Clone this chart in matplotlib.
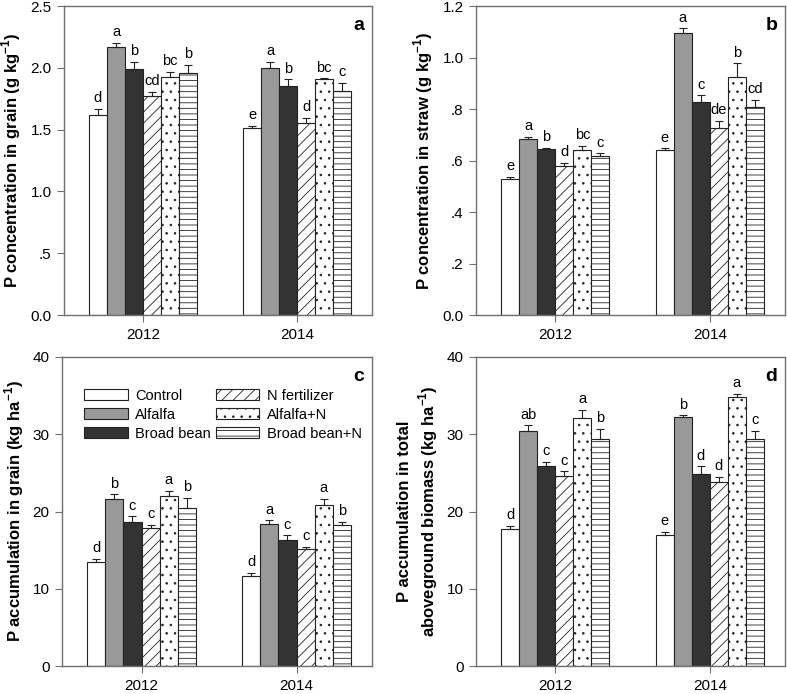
import numpy as np
import matplotlib
matplotlib.use("Agg")
import matplotlib.pyplot as plt

plt.rcParams['font.family'] = ['Liberation Sans', 'DejaVu Sans']
plt.rcParams['mathtext.fontset'] = 'custom'
plt.rcParams['mathtext.rm'] = 'Liberation Sans'
plt.rcParams['mathtext.bf'] = 'Liberation Sans:bold'
plt.rcParams['hatch.linewidth'] = 0.6

years = ['2012', '2014']
treatments = ['Control', 'Alfalfa', 'Broad bean', 'N fertilizer', 'Alfalfa+N', 'Broad bean+N']

# panel a: P concentration in grain (rows = treatments, cols = years)
grain_conc = [[1.62, 1.51], [2.165, 2.00], [1.99, 1.853], [1.775, 1.556], [1.923, 1.907], [1.958, 1.815]]
grain_conc_err = [[0.047, 0.02], [0.038, 0.05], [0.06, 0.054], [0.032, 0.041], [0.047, 0.008], [0.067, 0.065]]
grain_conc_let = [['d', 'e'], ['a', 'a'], ['b', 'b'], ['cd', 'd'], ['bc', 'bc'], ['b', 'c']]

# panel b: P concentration in straw
straw_conc = [[0.529, 0.641], [0.682, 1.094], [0.645, 0.826], [0.58, 0.726], [0.639, 0.923], [0.619, 0.806]]
straw_conc_err = [[0.008, 0.006], [0.009, 0.019], [0.005, 0.027], [0.012, 0.029], [0.017, 0.054], [0.009, 0.029]]
straw_conc_let = [['e', 'e'], ['a', 'a'], ['b', 'c'], ['d', 'de'], ['bc', 'b'], ['c', 'cd']]

# panel c: P accumulation in grain
grain_acc = [[13.46, 11.65], [21.66, 18.42], [18.68, 16.3], [17.8, 15.1], [21.96, 20.8], [20.45, 18.2]]
grain_acc_err = [[0.44, 0.45], [0.55, 0.44], [0.7, 0.6], [0.5, 0.3], [0.74, 0.86], [1.35, 0.5]]
grain_acc_let = [['d', 'd'], ['b', 'a'], ['c', 'c'], ['c', 'c'], ['a', 'a'], ['b', 'b']]

# panel d: P accumulation in total aboveground biomass
total_acc = [[17.69, 17.0], [30.42, 32.23], [25.85, 24.9], [24.6, 23.82], [32.1, 34.82], [29.4, 29.4]]
total_acc_err = [[0.43, 0.4], [0.73, 0.22], [0.55, 0.95], [0.6, 0.65], [1.08, 0.43], [1.3, 1.06]]
total_acc_let = [['d', 'e'], ['ab', 'b'], ['c', 'd'], ['c', 'd'], ['a', 'a'], ['b', 'c']]

styles = [
    dict(facecolor='white', hatch=None),
    dict(facecolor='#999999', hatch=None),
    dict(facecolor='#333333', hatch=None),
    dict(facecolor='white', hatch='///'),
    dict(facecolor='white', hatch='..'),
    dict(facecolor='white', hatch='---'),
]

fig = plt.figure(figsize=(7.87, 6.94), dpi=100)
W, H = 787, 694


def make_ax(l, r, t, b):
    return fig.add_axes([l / W, 1 - b / H, (r - l) / W, (b - t) / H])


def panel(ax, vals, errs, lets, ymax, yticks, yticklabels, ylabel, letter):
    x = np.arange(len(years))
    bw = 0.117
    for i, tr in enumerate(treatments):
        pos = x + (i - 2.5) * bw
        st = styles[i]
        ax.bar(pos, vals[i], width=bw, color=st['facecolor'], hatch=st['hatch'],
               edgecolor='#222222', linewidth=0.8, label=tr, zorder=2)
        ax.errorbar(pos, vals[i], yerr=[[0, 0], errs[i]], fmt='none', ecolor='#222222',
                    elinewidth=0.8, capsize=3, capthick=0.8, zorder=3)
        for j in range(len(years)):
            ax.text(pos[j], vals[i][j] + errs[i][j] + ymax * 0.012, lets[i][j],
                    ha='center', va='bottom', fontsize=10.5)
    ax.set_xlim(-0.513, 1.487)
    ax.set_ylim(0, ymax)
    ax.set_xticks(x)
    ax.set_xticklabels(years, fontsize=11)
    ax.set_yticks(yticks)
    ax.set_yticklabels(yticklabels, fontsize=11)
    ax.set_ylabel(ylabel, fontsize=12, fontweight='bold', labelpad=5)
    for s in ax.spines.values():
        s.set_color('#707070')
        s.set_linewidth(1.0)
    ax.tick_params(direction='out', length=5, color='#707070', pad=4)
    ax.text(0.975, 0.965, letter, transform=ax.transAxes, ha='right', va='top',
            fontsize=14, fontweight='bold')


ax_a = make_ax(64, 372, 6, 315)
panel(ax_a, grain_conc, grain_conc_err, grain_conc_let, 2.5,
      [0, 0.5, 1.0, 1.5, 2.0, 2.5], ['0.0', '.5', '1.0', '1.5', '2.0', '2.5'],
      r'P concentration in grain (g kg$^{\mathbf{-1}}$)', 'a')

ax_b = make_ax(476, 785, 6, 315)
panel(ax_b, straw_conc, straw_conc_err, straw_conc_let, 1.2,
      [0, 0.2, 0.4, 0.6, 0.8, 1.0, 1.2], ['0.0', '.2', '.4', '.6', '.8', '1.0', '1.2'],
      r'P concentration in straw (g kg$^{\mathbf{-1}}$)', 'b')

ax_c = make_ax(62, 372, 357, 666)
panel(ax_c, grain_acc, grain_acc_err, grain_acc_let, 40,
      [0, 10, 20, 30, 40], ['0', '10', '20', '30', '40'],
      r'P accumulation in grain (kg ha$^{\mathbf{-1}}$)', 'c')
ax_c.legend(loc='upper left', bbox_to_anchor=(0.03, 0.94), ncol=2, frameon=False,
            fontsize=10.5, handlelength=3.0, handleheight=0.8, columnspacing=0.3,
            handletextpad=0.5, labelspacing=0.35)

ax_d = make_ax(476, 785, 357, 666)
panel(ax_d, total_acc, total_acc_err, total_acc_let, 40,
      [0, 10, 20, 30, 40], ['0', '10', '20', '30', '40'],
      'P accumulation in total\n' + r'aboveground biomass (kg ha$^{\mathbf{-1}}$)', 'd')

fig.savefig('out.png', dpi=100)
